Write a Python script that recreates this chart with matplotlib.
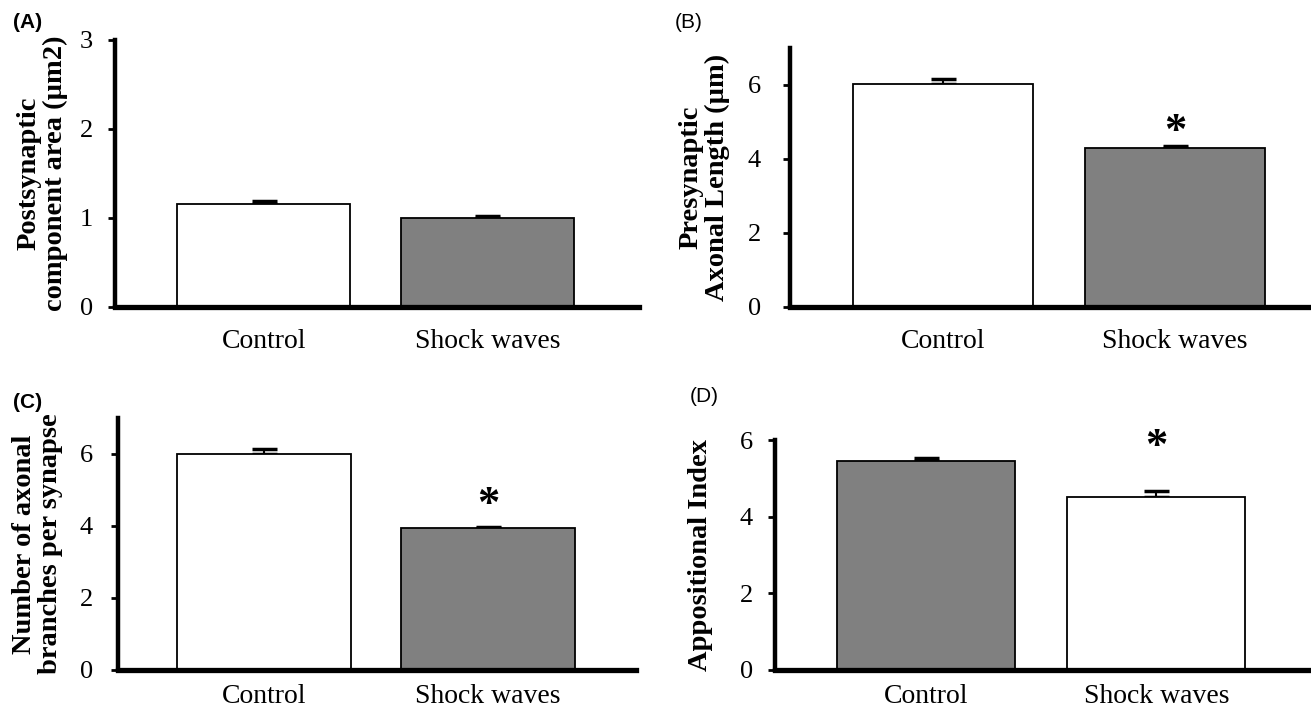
import numpy as np
import matplotlib
matplotlib.use("Agg")
import matplotlib.pyplot as plt
from matplotlib.transforms import ScaledTranslation

groups = ["Control", "Shock waves"]

post_area = [1.16, 1.00]
post_area_err = [0.03, 0.02]

axon_len = [6.03, 4.30]
axon_len_err = [0.13, 0.05]

branches = [6.00, 3.93]
branches_err = [0.14, 0.05]

appos = [5.45, 4.52]
appos_err = [0.08, 0.16]

# where the significance stars sit (data units, centre of the glyph)
star_b = 4.92
star_c = 4.78
star_d = 6.00

gray = "#808080"
serif = ["Liberation Serif", "DejaVu Serif"]
sans = ["Liberation Sans", "DejaVu Sans"]

fig = plt.figure(figsize=(13.11, 7.12), dpi=100)

panels = [
    # rect, values, errs, ylim, yticks, colors, ylabel, star, tag, tagpos, tagbold, xlim, labelx, tickpad, xpad
    ([0.0877, 0.569, 0.400, 0.375], post_area, post_area_err, 3, [0, 1, 2, 3],
     ["white", gray], "Postsynaptic\ncomponent area (µm2)", None, "(A)", (0.010, 0.969), True,
     (-0.665, 1.68), -0.090, 11, 16),
    ([0.6026, 0.569, 0.3974, 0.364], axon_len, axon_len_err, 7, [0, 2, 4, 6],
     ["white", gray], "Presynaptic\nAxonal Length (µm)", star_b, "(B)", (0.515, 0.968), False,
     (-0.66, 1.586), -0.115, 16, 16),
    ([0.090, 0.059, 0.395, 0.354], branches, branches_err, 7, [0, 2, 4, 6],
     ["white", gray], "Number of axonal\nbranches per synapse", star_c, "(C)", (0.010, 0.435), True,
     (-0.65, 1.66), -0.106, 13, 10),
    ([0.5912, 0.059, 0.4066, 0.323], appos, appos_err, 6, [0, 2, 4, 6],
     [gray, "white"], "Appositional Index", star_d, "(D)", (0.526, 0.443), False,
     (-0.657, 1.66), -0.116, 11, 10),
]

x = np.arange(len(groups))
star_shift = ScaledTranslation(0, -19.5 / 72, fig.dpi_scale_trans)

for (rect, vals, errs, ytop, yt, cols, ylab, star, tag, tpos, tbold,
     xl, labx, tpad, xpad) in panels:
    ax = fig.add_axes(rect)
    ax.bar(x, vals, width=0.775, color=cols, edgecolor="black", linewidth=1.3, zorder=2)
    ax.errorbar(x, vals, yerr=[np.zeros(len(vals)), errs], fmt="none",
                ecolor="black", elinewidth=1.5, capsize=9, capthick=2.5, zorder=1)
    ax.set_ylim(0, ytop)
    ax.set_xlim(*xl)
    ax.set_yticks(yt)
    ax.set_xticks(x)
    ax.set_xticklabels(groups, fontfamily=serif, fontsize=20)
    for lab in ax.get_yticklabels():
        lab.set_fontfamily(serif)
        lab.set_fontsize(19)
    ax.tick_params(axis="y", length=5, width=2, pad=tpad)
    ax.tick_params(axis="x", length=0, pad=xpad)
    ax.spines["top"].set_visible(False)
    ax.spines["right"].set_visible(False)
    ax.spines["left"].set_linewidth(3.2)
    ax.spines["bottom"].set_linewidth(3.8)
    ax.set_ylabel(ylab, fontfamily=serif, fontsize=20.5, fontweight="bold", linespacing=1.05)
    ax.yaxis.set_label_coords(labx, 0.5)
    if star is not None:
        ax.text(x[1], star, "*", ha="center", va="bottom", fontfamily=serif,
                fontsize=32, fontweight="bold", transform=ax.transData + star_shift)
    fig.text(tpos[0], tpos[1], tag, fontfamily=sans, fontsize=15,
             fontweight="bold" if tbold else "normal", ha="left", va="center")

fig.savefig("out.png", dpi=100)
